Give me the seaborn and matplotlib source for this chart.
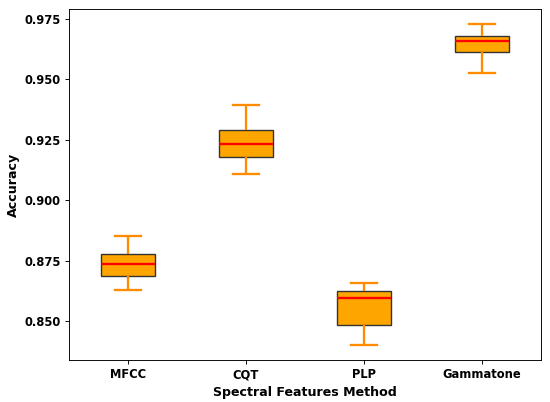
import matplotlib
matplotlib.use("Agg")
import matplotlib.pyplot as plt
import seaborn as sns
import pandas as pd

methods = ["MFCC", "CQT", "PLP", "Gammatone"]
# five-number summaries: lower whisker, Q1, median, Q3, upper whisker
mfcc = [0.8627, 0.8688, 0.8737, 0.8777, 0.8852]
cqt = [0.9107, 0.9180, 0.9234, 0.9289, 0.9394]
plp = [0.8402, 0.8482, 0.8594, 0.8624, 0.8656]
gammatone = [0.9525, 0.9612, 0.9659, 0.9681, 0.9728]

rows = []
for name, vals in zip(methods, [mfcc, cqt, plp, gammatone]):
    for v in vals:
        rows.append({"Method": name, "Accuracy": v})
df = pd.DataFrame(rows)

DPI = 83
fig = plt.figure(figsize=(550 / DPI, 402 / DPI), dpi=DPI)
ax = fig.add_axes([69 / 550, 1 - 360 / 402, (541 - 69) / 550, (360 - 9) / 402])

sns.boxplot(
    data=df, x="Method", y="Accuracy", order=methods, ax=ax,
    width=0.45, saturation=1, color="orange", whis=1.5,
    boxprops=dict(facecolor="orange", edgecolor="#333333", linewidth=1.2),
    whiskerprops=dict(color="darkorange", linewidth=2),
    capprops=dict(color="darkorange", linewidth=2),
    medianprops=dict(color="red", linewidth=2),
    showfliers=False,
)

ax.set_xlim(-0.5, 3.5)
ax.set_ylim(0.8339, 0.9791)
yt = [0.850, 0.875, 0.900, 0.925, 0.950, 0.975]
ax.set_yticks(yt)
ax.set_yticklabels([f"{t:.3f}" for t in yt])
for lbl in ax.get_xticklabels() + ax.get_yticklabels():
    lbl.set_fontweight("bold")
    lbl.set_fontsize(10)
ax.set_xlabel("Spectral Features Method", fontsize=11, fontweight="bold")
ax.set_ylabel("Accuracy", fontsize=11, fontweight="bold")

fig.savefig("out.png", dpi=DPI)
